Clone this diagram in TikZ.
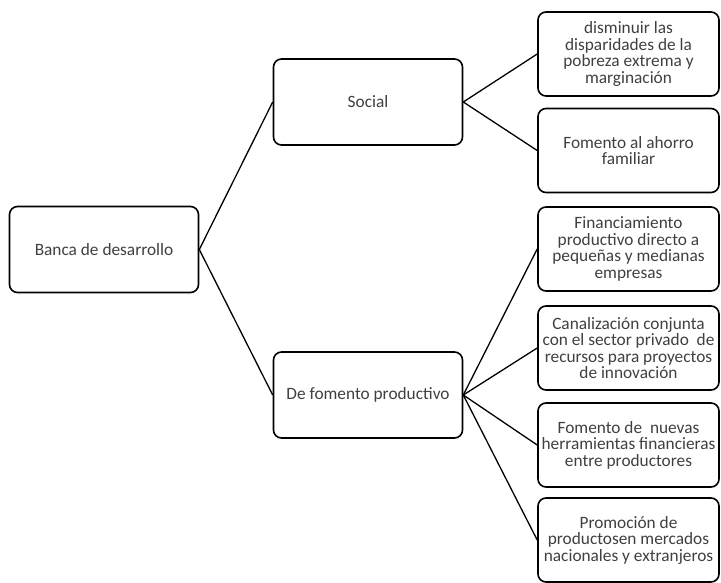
\documentclass[tikz,border=0pt]{standalone}
\usepackage{fontspec}
\setmainfont{Carlito}
\definecolor{txt}{HTML}{404040}
\begin{document}
\begin{tikzpicture}[x=1pt,y=-1pt,
  box/.style={draw=black, line width=1.6pt, rounded corners=8pt, fill=white,
    text=txt, align=center, inner sep=0pt, font=\fontsize{17.3}{16.5}\selectfont},
  leftbox/.style={box, minimum width=189pt, minimum height=86pt},
  rbox/.style={box, minimum width=181pt, minimum height=84pt},
  link/.style={draw=black, line width=1.3pt}]
\useasboundingbox (0,0) rectangle (721,582);
\node[leftbox] (banca) at (104,249.5) {Banca de desarrollo};
\node[leftbox] (social) at (368,102) {Social};
\node[leftbox] (fomento) at (368,395) {De fomento productivo};
\node[rbox] (r1) at (628.5,54) {disminuir las\\disparidades de la\\pobreza extrema y\\marginación};
\node[rbox] (r2) at (628.5,150.5) {Fomento al ahorro\\familiar};
\node[rbox] (r3) at (628.5,249) {Financiamiento\\productivo directo a\\pequeñas y medianas\\empresas};
\node[rbox] (r4) at (628.5,348) {Canalización conjunta\\con el sector privado \ de\\recursos para proyectos\\de innovación};
\node[rbox] (r5) at (628.5,445) {Fomento de \ nuevas\\herramientas financieras\\entre productores};
\node[rbox] (r6) at (628.5,540) {Promoción de\\productosen mercados\\nacionales y extranjeros};
\draw[link] (banca.east) -- (social.west);
\draw[link] (banca.east) -- (fomento.west);
\draw[link] (social.east) -- (r1.west);
\draw[link] (social.east) -- (r2.west);
\draw[link] (fomento.east) -- (r3.west);
\draw[link] (fomento.east) -- (r4.west);
\draw[link] (fomento.east) -- (r5.west);
\draw[link] (fomento.east) -- (r6.west);
\end{tikzpicture}
\end{document}
